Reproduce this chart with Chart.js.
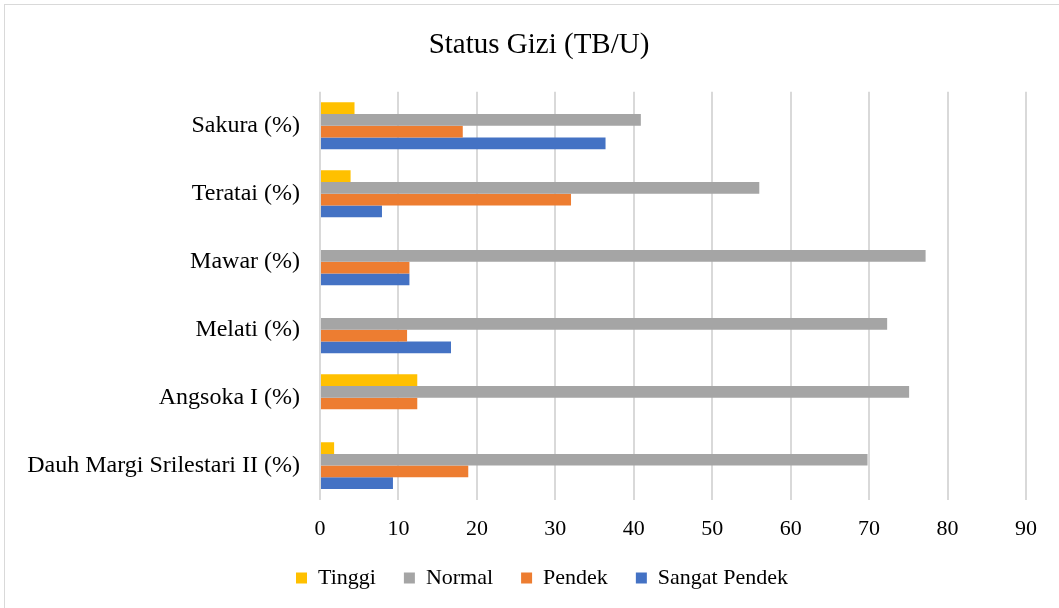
<!DOCTYPE html>
<html>
<head>
<meta charset="utf-8">
<script src="https://cdn.jsdelivr.net/npm/chart.js@4/dist/chart.umd.min.js"></script>
<style>
  html,body{margin:0;padding:0;background:#fff;}
  #wrap{position:relative;width:1059px;height:608px;overflow:hidden;}
  #frame{position:absolute;left:4px;top:4px;width:1100px;height:640px;border:1px solid #d9d9d9;box-sizing:border-box;}
  canvas{position:absolute;left:0;top:0;}
</style>
</head>
<body>
<div id="wrap">
  <div id="frame"></div>
  <canvas id="chartGizi" width="1059" height="608"></canvas>
</div>
<script>
const kategori = ["Sakura (%)","Teratai (%)","Mawar (%)","Melati (%)","Angsoka I (%)","Dauh Margi Srilestari II (%)"];
const tinggi = [4.4, 3.9, 0, 0, 12.4, 1.8];
const normal = [40.9, 56.0, 77.2, 72.3, 75.1, 69.8];
const pendek = [18.2, 32.0, 11.4, 11.1, 12.4, 18.9];
const sangatPendek = [36.4, 7.9, 11.4, 16.7, 0, 9.3];
const xTicks = [0,10,20,30,40,50,60,70,80,90];

const serif = "'Liberation Serif','Times New Roman',serif";
Chart.defaults.font.family = serif;
Chart.defaults.color = "#000";

// title and legend sit a bit right of the plot centre in the original
const geserBox = {
  id: "geserBox",
  afterLayout(chart) {
    const t = chart.titleBlock, l = chart.legend;
    if (t) { t.left += 26; t.right += 26; }
    if (l) { l.left += 29; l.right += 29; l.top -= 19; l.bottom -= 19; }
  }
};

new Chart(document.getElementById("chartGizi"), {
  type: "bar",
  data: {
    labels: kategori,
    datasets: [
      { label:"Tinggi", data:tinggi, backgroundColor:"#FFC000" },
      { label:"Normal", data:normal, backgroundColor:"#A5A5A5" },
      { label:"Pendek", data:pendek, backgroundColor:"#ED7D31" },
      { label:"Sangat Pendek", data:sangatPendek, backgroundColor:"#4472C4" }
    ]
  },
  options: {
    indexAxis: "y",
    responsive: false,
    animation: false,
    datasets: { bar: { categoryPercentage: 0.69, barPercentage: 1.0 } },
    layout: { padding: { left:0, right:33, top:18, bottom:-10 } },
    plugins: {
      title: {
        display: true,
        text: "Status Gizi (TB/U)",
        font: { size: 29, weight: "normal" },
        color: "#000",
        padding: { top: 10, bottom: 29 }
      },
      legend: {
        position: "bottom",
        labels: { boxWidth: 11, boxHeight: 11, font: { size: 22 }, padding: 28, color: "#000" }
      },
      tooltip: { enabled: false }
    },
    scales: {
      x: {
        min: 0, max: 90,
        afterBuildTicks: s => { s.ticks = xTicks.map(v => ({ value: v })); },
        grid: { color: "#d9d9d9", lineWidth: 2, drawTicks: false },
        border: { display: false },
        ticks: { font: { size: 22 }, padding: 16, color: "#000" }
      },
      y: {
        grid: { display: false, drawTicks: false },
        border: { display: false },
        ticks: { font: { size: 24 }, padding: 20, color: "#000" },
        afterFit: s => { s.width = 320; }
      }
    }
  },
  plugins: [geserBox]
});
</script>
</body>
</html>
